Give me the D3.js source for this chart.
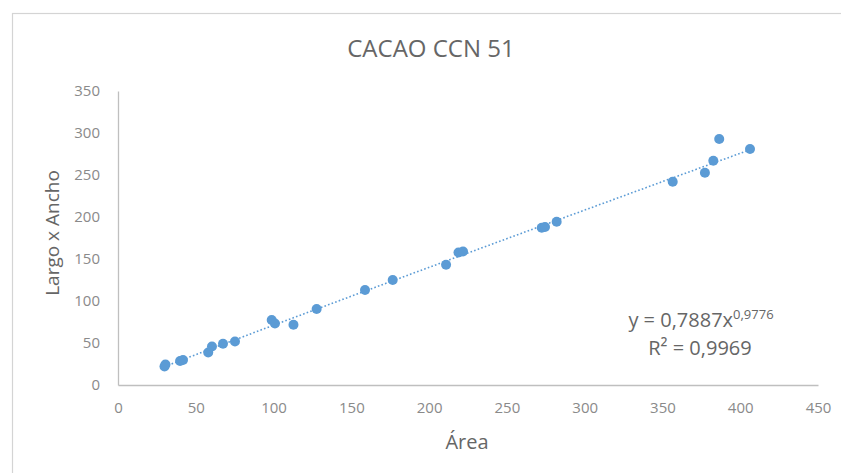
<!DOCTYPE html>
<html>
<head>
<meta charset="utf-8">
<script src="https://cdn.jsdelivr.net/npm/d3@7"></script>
<style>
  html, body { margin: 0; padding: 0; background: #fff; }
  svg { display: block; }
  text { font-family: "Open Sans", "Noto Sans", sans-serif; }
</style>
</head>
<body>
<svg id="chart" width="841" height="473"></svg>
<script>
// Área (x) and Largo x Ancho (y) for each pod
const area = [29.9, 30.5, 39.9, 41.8, 58.0, 60.4, 67.5, 75.2, 98.8, 100.9, 112.8, 127.7,
              158.8, 176.6, 210.9, 218.9, 221.8, 272.4, 274.5, 282.0, 356.6, 377.3, 382.7, 386.5, 406.3];
const largoAncho = [22.0, 24.4, 28.6, 29.8, 38.7, 45.8, 49.2, 51.8, 77.4, 73.2, 71.8, 90.5,
                    113.1, 125.0, 143.2, 157.7, 158.9, 187.3, 188.0, 194.4, 242.0, 252.7, 267.0, 292.9, 281.0];

// Power trendline fitted to the data: y = a·x^b
const trendA = 0.7887;
const trendB = 0.9776;
const rSquared = "0,9969";

const xTicks = [0, 50, 100, 150, 200, 250, 300, 350, 400, 450];
const yTicks = [0, 50, 100, 150, 200, 250, 300, 350];

const title = "CACAO CCN 51";
const xLabel = "Área";
const yLabel = "Largo x Ancho";

const svg = d3.select("#chart");
const W = 841, H = 473;
const plot = { left: 118, right: 818, top: 91, bottom: 385 };

const blue = "#5B9BD5";
const axisGray = "#bfbfbf";
const tickGray = "#8a8a8a";
const labelGray = "#666666";

// chart frame
svg.append("rect")
  .attr("x", 12.5).attr("y", 13.5)
  .attr("width", W + 20).attr("height", H + 20)
  .attr("fill", "#fff")
  .attr("stroke", "#d4d4d4").attr("stroke-width", 1.2);

const x = d3.scaleLinear().domain([0, 450]).range([plot.left, plot.right]);
const y = d3.scaleLinear().domain([0, 350]).range([plot.bottom, plot.top]);

// axes
const xAxis = svg.append("g")
  .attr("transform", `translate(0,${plot.bottom})`)
  .call(d3.axisBottom(x).tickValues(xTicks).tickSize(0).tickPadding(17).tickFormat(d3.format("d")));
const yAxis = svg.append("g")
  .attr("transform", `translate(${plot.left},0)`)
  .call(d3.axisLeft(y).tickValues(yTicks).tickSize(0).tickPadding(18).tickFormat(d3.format("d")));

[xAxis, yAxis].forEach(g => {
  g.select(".domain").attr("stroke", axisGray).attr("stroke-width", 1.3);
  g.selectAll("text")
    .attr("fill", tickGray)
    .style("font-size", "15px")
    .style("font-family", "'Open Sans', sans-serif");
});

// trendline
const xs = d3.range(d3.min(area), d3.max(area) + 0.001, (d3.max(area) - d3.min(area)) / 100);
const line = d3.line()
  .x(d => x(d))
  .y(d => y(trendA * Math.pow(d, trendB)));
svg.append("path")
  .datum(xs)
  .attr("d", line)
  .attr("fill", "none")
  .attr("stroke", blue)
  .attr("stroke-width", 1.6)
  .attr("stroke-dasharray", "1.6,2.2");

// points
svg.append("g")
  .selectAll("circle")
  .data(area.map((a, i) => [a, largoAncho[i]]))
  .join("circle")
  .attr("cx", d => x(d[0]))
  .attr("cy", d => y(d[1]))
  .attr("r", 5)
  .attr("fill", blue);

// title
svg.append("text")
  .attr("x", 431).attr("y", 57)
  .attr("text-anchor", "middle")
  .attr("fill", labelGray)
  .style("font-size", "24px")
  .text(title);

// axis titles
svg.append("text")
  .attr("x", 467).attr("y", 449)
  .attr("text-anchor", "middle")
  .attr("fill", labelGray)
  .style("font-size", "20px")
  .text(xLabel);

svg.append("text")
  .attr("transform", "translate(59,233) rotate(-90)")
  .attr("text-anchor", "middle")
  .attr("fill", labelGray)
  .style("font-size", "19px")
  .text(yLabel);

// trendline equation
const eq = svg.append("text")
  .attr("x", 701).attr("y", 327)
  .attr("text-anchor", "middle")
  .attr("fill", labelGray)
  .style("font-size", "20px");
eq.append("tspan").text("y = " + String(trendA).replace(".", ",") + "x");
eq.append("tspan").attr("dy", -8).style("font-size", "13px").text(String(trendB).replace(".", ","));

svg.append("text")
  .attr("x", 700).attr("y", 355)
  .attr("text-anchor", "middle")
  .attr("fill", labelGray)
  .style("font-size", "20px")
  .text("R² = " + rSquared);
</script>
</body>
</html>
